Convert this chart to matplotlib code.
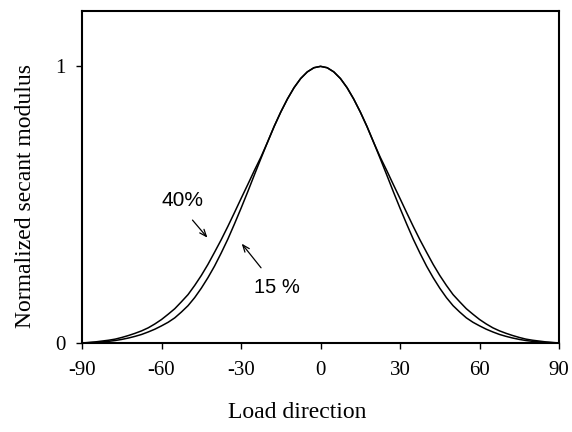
import matplotlib
matplotlib.use('Agg')
import matplotlib.pyplot as plt

# Angle (deg) from 0 to 90, the curves are symmetric about 0
half_angle = [0, 2.5, 5, 7.5, 10, 12.5, 15, 17.5, 20, 22.5, 25, 27.5, 30, 32.5, 35, 37.5, 40, 42.5,
              45, 47.5, 50, 52.5, 55, 57.5, 60, 62.5, 65, 67.5, 70, 72.5, 75, 77.5, 80, 82.5, 85, 87.5, 90]
half_15 = [1.0, 0.995, 0.980, 0.956, 0.923, 0.882, 0.835, 0.783, 0.726, 0.667, 0.607, 0.546, 0.487,
           0.430, 0.375, 0.325, 0.278, 0.236, 0.198, 0.164, 0.135, 0.112, 0.091, 0.075, 0.062, 0.050,
           0.040, 0.031, 0.024, 0.018, 0.013, 0.009, 0.006, 0.004, 0.002, 0.001, 0.0]
half_40 = [1.0, 0.995, 0.980, 0.956, 0.923, 0.882, 0.835, 0.783, 0.726, 0.672, 0.623, 0.572, 0.522,
           0.471, 0.421, 0.373, 0.328, 0.284, 0.244, 0.208, 0.175, 0.149, 0.124, 0.104, 0.085, 0.069,
           0.055, 0.044, 0.035, 0.027, 0.020, 0.014, 0.010, 0.007, 0.004, 0.002, 0.0]
xticks = [-90, -60, -30, 0, 30, 60, 90]
yticks = [0, 1]

angle = [-a for a in half_angle[::-1]] + half_angle[1:]
mod_15 = half_15[::-1] + half_15[1:]
mod_40 = half_40[::-1] + half_40[1:]

serif = 'Liberation Serif'
sans = 'Liberation Sans'

fig = plt.figure(figsize=(5.72, 4.32), dpi=100)
ax = fig.add_axes([0.1434, 0.206, 0.834, 0.7685])

ax.plot(angle, mod_15, color='black', lw=1.1)
ax.plot(angle, mod_40, color='black', lw=1.1)

ax.set_xlim(-90, 90)
ax.set_ylim(0, 1.2)
ax.set_xticks(xticks)
ax.set_yticks(yticks)
ax.set_xticklabels([str(t) for t in xticks], family=serif, fontsize=15)
ax.set_yticklabels([str(t) for t in yticks], family=serif, fontsize=15)
ax.tick_params(direction='out', length=4, width=1)
ax.tick_params(axis='x', pad=9)
ax.tick_params(axis='y', pad=8)
for s in ax.spines.values():
    s.set_linewidth(1.5)

# Labels
fig.text(0.52, 0.044, 'Load direction', family=serif, fontsize=17, ha='center', va='center')
fig.text(0.044, 0.546, 'Normalized secant modulus', family=serif, fontsize=17,
         ha='center', va='center', rotation=90)

# Annotations
ax.annotate('', xy=(-42.0, 0.373), xytext=(-49.0, 0.452),
            arrowprops=dict(arrowstyle='->,head_length=0.5,head_width=0.2', color='black', lw=0.9))
ax.text(-51.9, 0.514, '40%', family=sans, fontsize=15, ha='center', va='center')
ax.annotate('', xy=(-30.4, 0.367), xytext=(-21.8, 0.264),
            arrowprops=dict(arrowstyle='->,head_length=0.5,head_width=0.2', color='black', lw=0.9))
ax.text(-16.4, 0.199, '15 %', family=sans, fontsize=14.5, ha='center', va='center')

fig.savefig('out.png', dpi=100)
